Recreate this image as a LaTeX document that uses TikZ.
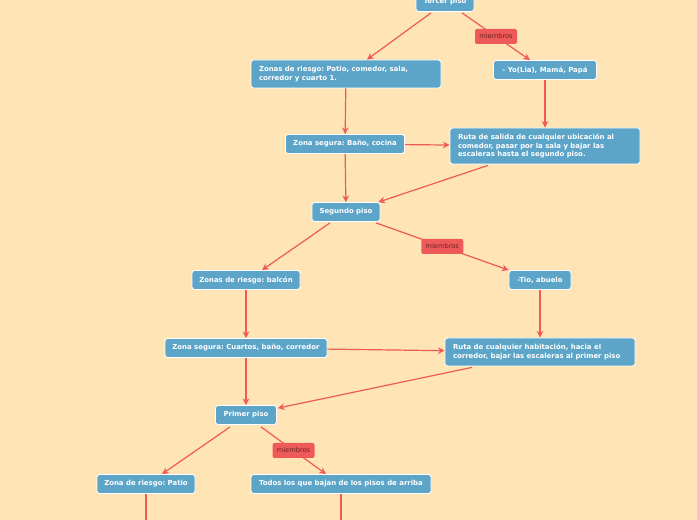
\documentclass[tikz,border=0pt]{standalone}
\usepackage{fontspec}
\setsansfont{DejaVu Sans}
\usepackage{tikz}
\usetikzlibrary{arrows.meta, positioning, calc}
\definecolor{pisobg}{HTML}{FFE4B5}
\definecolor{pisoblue}{HTML}{5CA5C9}
\definecolor{pisored}{HTML}{EE5A5A}
\definecolor{pisotext}{HTML}{6A2222}
\frenchspacing
\hyphenpenalty=10000
\exhyphenpenalty=10000

\begin{document}
\begin{tikzpicture}[
    x=0.75pt, y=-0.75pt,
    box/.style={draw=white, line width=0.6pt, fill=pisoblue, rounded corners=2pt, text=white, font=\fontsize{5.2}{6.4}\selectfont\sffamily\bfseries, inner xsep=0pt, inner ysep=0pt, minimum height=14.25pt},
    wide/.style={box, text width=130.5pt, align=flush left, inner xsep=6pt, inner ysep=2pt},
    tag/.style={fill=pisored, rounded corners=1.5pt, text=pisotext, font=\fontsize{5}{6}\selectfont\sffamily, inner sep=0pt, minimum width=31.5pt, minimum height=11.25pt},
    connector/.style={-{Stealth[length=5pt, width=5pt]}, line width=0.9pt, pisored},
    line/.style={line width=0.9pt, pisored},
]

\clip (0,0) rectangle (697,520);
\fill[pisobg] (0,0) rectangle (697,520);

% Third floor
\node[box, minimum width=43.5pt, minimum height=15pt] (tercer) at (445,1.5) {Tercer piso};
\node[wide, minimum height=21pt] (riesgoT) at (346,74) {Zonas de riesgo: Patio, comedor, sala, corredor y cuarto 1.};
\node[box, minimum width=77.25pt] (gente3) at (545,70) {- Yo(Lia), Mamá, Papá};
\node[box, minimum width=89.25pt] (seguraT) at (345,144) {Zona segura: Baño, cocina};
\node[wide, minimum height=27pt] (rutaT) at (545,146) {Ruta de salida de cualquier ubicación al comedor, pasar por la sala y bajar las escaleras hasta el segundo piso.};

% Second floor
\node[box, minimum width=51pt] (segundo) at (346,212) {Segundo piso};
\node[box, minimum width=81pt] (riesgoS) at (246,280) {Zonas de riesgo: balcón};
\node[box, minimum width=46.5pt] (gente2) at (540,280) {-Tio, abuelo};
\node[box, minimum width=121.5pt] (seguraS) at (246,348) {Zona segura: Cuartos, baño, corredor};
\node[wide, minimum height=21pt] (rutaS) at (540,352) {Ruta de cualquier habitación, hacia el corredor, bajar las escaleras al primer piso};

% First floor
\node[box, minimum width=45.75pt] (primer) at (246,415) {Primer piso};
\node[box, minimum width=73.5pt] (riesgoP) at (146,484) {Zona de riesgo: Patio};
\node[box, minimum width=135pt] (gente1) at (341,484) {Todos los que bajan de los pisos de arriba};
\coordinate (finP) at (146,530);
\coordinate (fin1) at (341,530);

% Arrows
\draw[connector] ($(tercer.south)+(-14,1)$) -- ($(riesgoT.north)+(21,0)$);
\draw[connector] ($(tercer.south)+(17,1)$) -- node[tag] (miembrosT) {miembros} ($(gente3.north)+(-15,0)$);
\draw[connector] (riesgoT) -- (seguraT);
\draw[connector] (gente3) -- (rutaT);
\draw[connector] (seguraT) -- (rutaT);
\draw[connector] (seguraT) -- (segundo);
\draw[connector] ($(rutaT.south)+(-57,1)$) -- ($(segundo.north east)+(-2,0)$);

\draw[connector] ($(segundo.south)+(-16,1)$) -- ($(riesgoS.north)+(16,0)$);
\draw[connector] ($(segundo.south)+(30,1)$) -- node[tag] (miembrosS) {miembros} (gente2.north west);
\draw[connector] (riesgoS) -- (seguraS);
\draw[connector] (gente2) -- (rutaS);
\draw[connector] (seguraS) -- (rutaS);
\draw[connector] (seguraS) -- (primer);
\draw[connector] ($(rutaS.south)+(-68,1)$) -- ($(primer.north east)+(1,3)$);

\draw[connector] ($(primer.south)+(-16,2)$) -- ($(riesgoP.north)+(16,0)$);
\draw[connector] ($(primer.south)+(15,2)$) -- node[tag] (miembrosP) {miembros} ($(gente1.north)+(-15,0)$);
\draw[line] (riesgoP) -- (finP);
\draw[line] (gente1) -- (fin1);

\end{tikzpicture}
\end{document}
